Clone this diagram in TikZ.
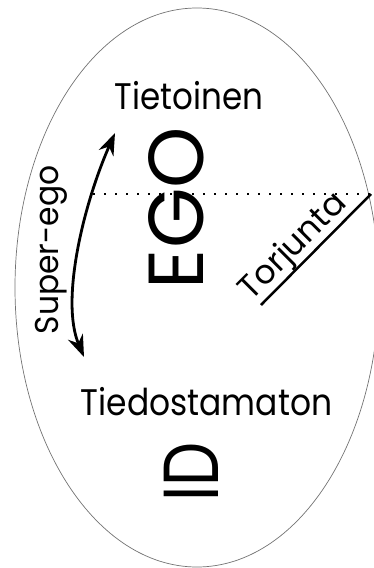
\documentclass[tikz,border=0pt]{standalone}
\usepackage{fontspec}
\usepackage{graphicx}
\setmainfont{Poppins}
\usetikzlibrary{arrows.meta}
\newcommand{\narrow}[2]{\scalebox{#1}[1]{#2}}
\tikzset{
  rimline/.style={line width=0.7pt, draw=black!55},
  caption/.style={font=\fontsize{37}{42}\selectfont, inner sep=0pt},
  bigword/.style={font=\fontsize{78}{90}\selectfont, inner sep=0pt},
  sidelabel/.style={font=\fontsize{33}{38}\selectfont, inner sep=0pt},
  slantlabel/.style={font=\fontsize{33}{38}\selectfont, inner sep=0pt},
  border/.style={line width=2.4pt, dash pattern=on 2.4pt off 8.6pt},
  heavy/.style={line width=2.5pt},
  twoway/.style={line width=2.8pt, {Stealth[length=22pt,width=16pt]}-{Stealth[length=22pt,width=16pt]}}
}
\begin{document}
\begin{tikzpicture}[x=1pt,y=-1pt]
  \useasboundingbox (0,0) rectangle (374,568);
  \clip (0,0) rectangle (374,568);

  % the mind as an egg-shaped outline
  \draw[rimline] (197,287.5) ellipse [x radius=182, y radius=279.5];

  % conscious / unconscious boundary and repression
  \coordinate (dotstart) at (93,194);
  \coordinate (rim) at (371,194);
  \coordinate (repend) at (261,305);
  \draw[border] (dotstart) -- (rim);
  \draw[heavy] (rim) -- (repend);

  % super-ego acting in both directions
  \coordinate (sgtop) at (115,133);
  \coordinate (sgbot) at (84,357);
  \draw[twoway] (sgtop) .. controls (84,203) and (60,300) .. (sgbot);

  % labels
  \node[caption, anchor=base] (tietoinen) at (189,109) {\narrow{0.88}{Tietoinen}};
  \node[caption, anchor=base] (tiedostamaton) at (206.5,415) {\narrow{0.89}{Tiedostamaton}};
  \node[bigword, rotate=90, anchor=base] (ego) at (203,208) {EGO};
  \node[bigword, rotate=90, anchor=base] (id) at (218,472) {\narrow{0.8}{ID}};
  \node[sidelabel, rotate=90, anchor=base] (superego) at (58,250) {\narrow{0.95}{Super-ego}};
  \node[slantlabel, rotate=45, anchor=base] (torjunta) at (300,253) {Torjunta};
\end{tikzpicture}
\end{document}
